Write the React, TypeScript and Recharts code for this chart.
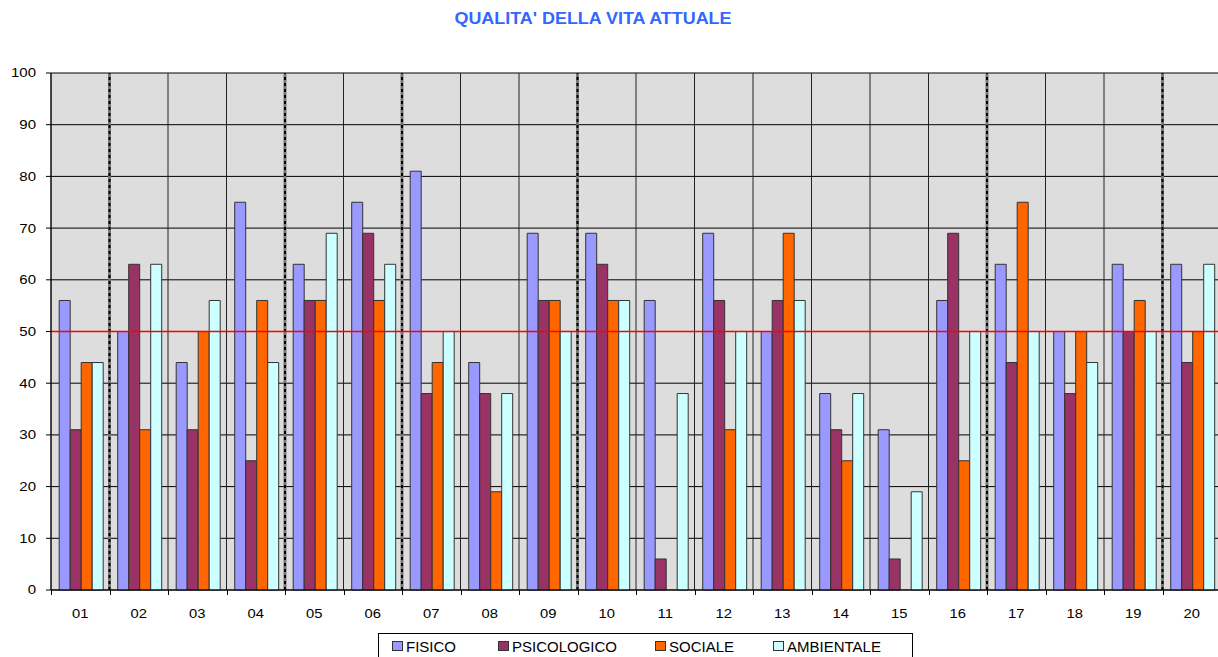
import { Bar, BarChart, CartesianGrid, ReferenceLine, XAxis, YAxis } from "recharts";

const categories = ["01", "02", "03", "04", "05", "06", "07", "08", "09", "10", "11", "12", "13", "14", "15", "16", "17", "18", "19", "20"];
const fisico = [56, 50, 44, 75, 63, 75, 81, 44, 69, 69, 56, 69, 50, 38, 31, 56, 63, 50, 63, 63];
const psicologico = [31, 63, 31, 25, 56, 69, 38, 38, 56, 63, 6, 56, 56, 31, 6, 69, 44, 38, 50, 44];
const sociale = [44, 31, 50, 56, 56, 56, 44, 19, 56, 56, 0, 31, 69, 25, 0, 25, 75, 50, 56, 50];
const ambientale = [44, 63, 56, 44, 69, 63, 50, 38, 50, 56, 38, 50, 56, 38, 19, 50, 50, 44, 50, 63];
const yTicks = [0, 10, 20, 30, 40, 50, 60, 70, 80, 90, 100];
const threshold = 50;
// groups start at these categories (thick dashed separator on their left edge)
const groupStarts = ["02", "05", "07", "10", "17", "20"];

const series = [
    { key: "fisico", name: "FISICO", color: "#9999FF" },
    { key: "psicologico", name: "PSICOLOGICO", color: "#993366" },
    { key: "sociale", name: "SOCIALE", color: "#FF6600" },
    { key: "ambientale", name: "AMBIENTALE", color: "#CCFFFF" },
];

const data = categories.map((name, i) => ({
    name,
    fisico: fisico[i],
    psicologico: psicologico[i],
    sociale: sociale[i],
    ambientale: ambientale[i],
}));

const font = "Arial, 'Liberation Sans', sans-serif";

const StretchTick = (props: any) => {
    const { x, y, payload, anchor, dy, sx } = props;
    return (
        <g transform={`translate(${x},${y})`}>
            <text transform={`scale(${sx},1)`} textAnchor={anchor} dy={dy} fill="#000" fontSize={12.5} fontFamily={font}>
                {payload.value}
            </text>
        </g>
    );
};

export default function App() {
    return (
        <div style={{ position: "absolute", left: 0, top: 0, width: 1218, height: 657, overflow: "hidden", background: "#fff", fontFamily: font }}>
            <div
                style={{
                    position: "absolute",
                    top: 10,
                    left: 0,
                    width: 1186,
                    textAlign: "center",
                    color: "#3366FF",
                    fontWeight: "bold",
                    fontSize: 16,
                    transform: "scaleX(1.12)",
                    transformOrigin: "593px 0",
                }}
            >
                QUALITA' DELLA VITA ATTUALE
            </div>
            <BarChart
                width={1222}
                height={657}
                data={data}
                margin={{ top: 73, right: 1, bottom: 37, left: 0 }}
                barCategoryGap="14%"
                barGap={0}
            >
                <CartesianGrid vertical={false} stroke="#000" fill="#DDDDDD" fillOpacity={1} />
                <XAxis
                    dataKey="name"
                    tick={<StretchTick anchor="middle" dy="0.71em" sx={1.18} />}
                    tickLine={false}
                    tickSize={0}
                    tickMargin={19}
                    axisLine={{ stroke: "#000" }}
                    height={30}
                    interval={0}
                />
                <YAxis
                    domain={[0, 100]}
                    ticks={yTicks}
                    width={51}
                    tick={<StretchTick anchor="end" dy="0.355em" sx={1.2} />}
                    tickLine={{ stroke: "#000" }}
                    tickSize={5}
                    tickMargin={10}
                    axisLine={{ stroke: "#000" }}
                    interval={0}
                />
                {categories.map((c) => (
                    <ReferenceLine key={"v" + c} x={c} position="start" stroke="#222" strokeWidth={1} />
                ))}
                <ReferenceLine x={categories[categories.length - 1]} position="end" stroke="#222" strokeWidth={1} />
                {groupStarts.map((c) => (
                    <ReferenceLine key={"g" + c} x={c} position="start" stroke="#777" strokeWidth={3} />
                ))}
                {groupStarts.map((c) => (
                    <ReferenceLine key={"d" + c} x={c} position="start" stroke="#000" strokeWidth={2} strokeDasharray="3 3" />
                ))}
                {series.map((s) => (
                    <Bar key={s.key} dataKey={s.key} name={s.name} fill={s.color} stroke="#333" strokeWidth={1} isAnimationActive={false} />
                ))}
                <ReferenceLine y={threshold} stroke="#FF0000" strokeWidth={1.5} strokeOpacity={1} />
            </BarChart>
            {categories.map((_, i) => (
                <div key={i} style={{ position: "absolute", left: 51 + i * 58.5, top: 590, width: 1, height: 5, background: "#000" }} />
            ))}
            <div
                style={{
                    position: "absolute",
                    left: 378,
                    top: 633,
                    width: 535,
                    height: 40,
                    border: "1px solid #000",
                    boxSizing: "border-box",
                    display: "flex",
                    paddingLeft: 13,
                    paddingTop: 3,
                    fontSize: 15,
                    color: "#000",
                }}
            >
                {series.map((s, i) => (
                    <div key={s.key} style={{ display: "flex", alignItems: "center", height: 18, width: [106, 157, 118, 130][i] }}>
                        <span style={{ display: "inline-block", width: 9, height: 8, background: s.color, border: "1px solid #333", marginRight: 3 }} />
                        <span>{s.name}</span>
                    </div>
                ))}
            </div>
        </div>
    );
}
